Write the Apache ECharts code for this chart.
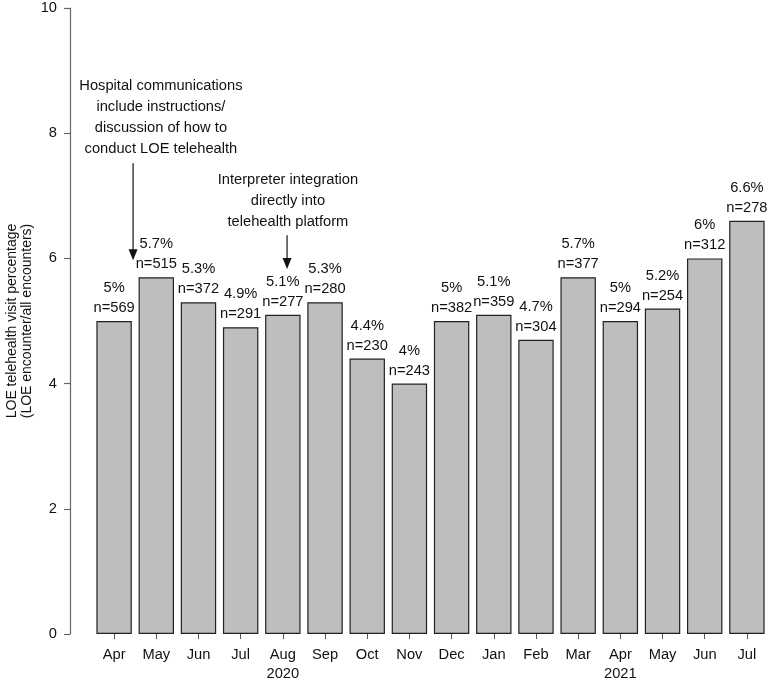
<!DOCTYPE html>
<html>
<head>
<meta charset="utf-8">
<script src="https://cdn.jsdelivr.net/npm/echarts@6/dist/echarts.min.js"></script>
<style>html,body{margin:0;padding:0;background:#fff}#c{width:772px;height:680px}</style>
</head>
<body>
<div id="c"></div>
<script>
const months = ['Apr','May','Jun','Jul','Aug','Sep','Oct','Nov','Dec','Jan','Feb','Mar','Apr','May','Jun','Jul'];
const yearLabels = ['','','','','2020','','','','','','','','2021','','',''];
const percent = [5, 5.7, 5.3, 4.9, 5.1, 5.3, 4.4, 4, 5, 5.1, 4.7, 5.7, 5, 5.2, 6, 6.6];
const counts = [569, 515, 372, 291, 277, 280, 230, 243, 382, 359, 304, 377, 294, 254, 312, 278];
const yTicks = [0, 2, 4, 6, 8, 10];

// annotations: category position (fractional index), value positions
const annotations = [
  { lines: ['Hospital communications', 'include instructions/', 'discussion of how to', 'conduct LOE telehealth'],
    textX: 1.11, textY: 8.76, arrowX: 0.45, arrowFrom: 7.52, arrowTo: 5.97 },
  { lines: ['Interpreter integration', 'directly into', 'telehealth platform'],
    textX: 4.12, textY: 7.26, arrowX: 4.1, arrowFrom: 6.37, arrowTo: 5.83 }
];

const FONT = '"Liberation Sans", Arial, Helvetica, sans-serif';
const FS = 14.7;
const chart = echarts.init(document.getElementById('c'), null, { renderer: 'canvas' });

const option = {
  animation: false,
  backgroundColor: '#fff',
  textStyle: { fontFamily: FONT },
  grid: { left: 93, right: 4, top: 8, bottom: 46, containLabel: false, outerBoundsMode: 'none' },
  xAxis: {
    type: 'category',
    data: months,
    offset: 3,
    axisLine: { show: false },
    axisTick: { show: true, alignWithLabel: true, length: 5, lineStyle: { color: '#555', width: 1 } },
    axisLabel: {
      interval: 0, margin: 8, fontSize: FS, color: '#111', lineHeight: 19, fontFamily: FONT,
      formatter: (v, i) => yearLabels[i] ? v + '\n' + yearLabels[i] : v
    },
    splitLine: { show: false }
  },
  yAxis: {
    type: 'value',
    min: 0, max: 10, interval: 2,
    offset: 23,
    name: 'LOE telehealth visit percentage\n(LOE encounter/all encounters)',
    nameLocation: 'middle',
    nameGap: 35,
    nameMoveOverlap: false,
    nameTextStyle: { fontSize: 14, color: '#111', lineHeight: 15.5, fontFamily: FONT },
    axisLine: { show: true, lineStyle: { color: '#666', width: 1.2 } },
    axisTick: { show: true, length: 6, lineStyle: { color: '#666', width: 1.2 } },
    axisLabel: { fontSize: FS, color: '#111', margin: 13, fontFamily: FONT,
      formatter: v => yTicks.includes(v) ? String(v) : '' },
    splitLine: { show: false }
  },
  series: [{
    type: 'bar',
    data: percent,
    barCategoryGap: '16%',
    itemStyle: { color: '#bebebe', borderColor: '#222', borderWidth: 1.2 },
    label: {
      show: true, position: 'top', distance: 3,
      fontSize: FS, color: '#111', lineHeight: 20, fontFamily: FONT,
      formatter: p => p.value + '%\nn=' + counts[p.dataIndex]
    }
  }]
};
chart.setOption(option);

function catPx(frac) {
  const i = Math.floor(frac);
  const a = chart.convertToPixel({ xAxisIndex: 0 }, i);
  const b = chart.convertToPixel({ xAxisIndex: 0 }, Math.min(i + 1, months.length - 1));
  const step = (i + 1 < months.length) ? (b - a) : (a - chart.convertToPixel({ xAxisIndex: 0 }, i - 1));
  return a + (frac - i) * step;
}
function valPx(v) { return chart.convertToPixel({ yAxisIndex: 0 }, v); }

const graphics = [];
annotations.forEach(an => {
  const tx = catPx(an.textX), ty = valPx(an.textY);
  const ax = catPx(an.arrowX), y1 = valPx(an.arrowFrom), y2 = valPx(an.arrowTo);
  graphics.push({
    type: 'text', x: tx, y: ty - 10.5, silent: true,
    style: { text: an.lines.join('\n'), fontSize: FS, lineHeight: 21, fill: '#111', fontFamily: FONT,
      textAlign: 'center', textVerticalAlign: 'top', verticalAlign: 'top' }
  });
  graphics.push({
    type: 'line', silent: true,
    shape: { x1: ax, y1: y1, x2: ax, y2: y2 - 8 },
    style: { stroke: '#111', lineWidth: 1.2 }
  });
  graphics.push({
    type: 'polygon', silent: true,
    shape: { points: [[ax - 4.5, y2 - 11], [ax + 4.5, y2 - 11], [ax, y2]] },
    style: { fill: '#111' }
  });
});
chart.setOption({ graphic: graphics });
</script>
</body>
</html>
